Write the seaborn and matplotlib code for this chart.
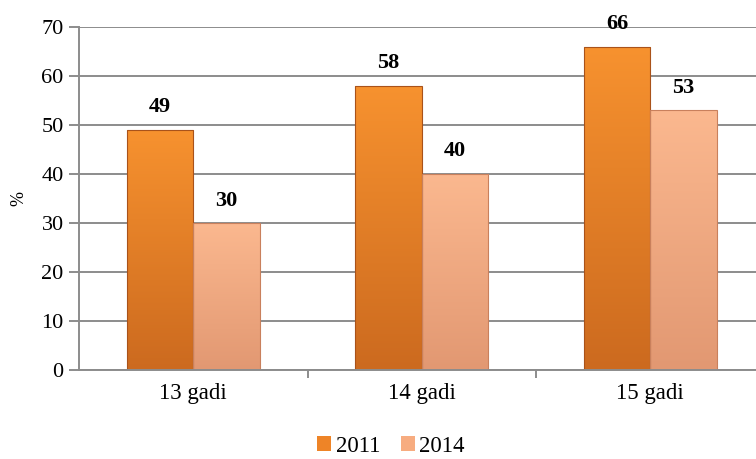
import matplotlib
matplotlib.use("Agg")
import matplotlib.pyplot as plt
import matplotlib.colors as mcolors
import seaborn as sns
import pandas as pd
import numpy as np

categories = ["13 gadi", "14 gadi", "15 gadi"]
years = ["2011", "2014"]
values_2011 = [49, 58, 66]
values_2014 = [30, 40, 53]

df = pd.DataFrame({
    "cat": categories * 2,
    "year": [years[0]] * 3 + [years[1]] * 3,
    "val": values_2011 + values_2014,
})

sns.set_theme(style="white")
plt.rcParams['font.family'] = ['Liberation Serif', 'DejaVu Serif']
plt.rcParams['text.color'] = 'black'
plt.rcParams['xtick.color'] = 'black'
plt.rcParams['ytick.color'] = 'black'
plt.rcParams['axes.labelcolor'] = 'black'

fig = plt.figure(figsize=(7.56, 4.59), dpi=100)
ax = fig.add_axes([79/756, (459-370)/459, (764.5-79)/756, (370-27)/459])

palette = {"2011": "#EE8427", "2014": "#F7AC80"}
grad = {"2011": ("#F7922F", "#CC6A1F"), "2014": ("#FBB88F", "#E29872")}
edge = {"2011": "#A9521A", "2014": "#C9805C"}

sns.barplot(data=df, x="cat", y="val", hue="year", palette=palette, ax=ax,
            width=0.58, gap=0, saturation=1, edgecolor="none", linewidth=0,
            legend=True)

# gradient fill on the bars
for cont, yr in zip(ax.containers, years):
    top, bot = grad[yr]
    cmap = mcolors.LinearSegmentedColormap.from_list("g" + yr, [bot, top])
    for p in cont.patches:
        x0, y0 = p.get_x(), p.get_y()
        w, h = p.get_width(), p.get_height()
        g = np.linspace(0, 1, 256).reshape(-1, 1)
        im = ax.imshow(g, extent=[x0, x0 + w, y0, y0 + h], origin="lower",
                       aspect="auto", cmap=cmap, zorder=p.get_zorder() + 0.1)
        im.set_clip_path(p)
        p.set_edgecolor(edge[yr])
        p.set_linewidth(0.8)
        p.set_facecolor("none")
        p.set_zorder(p.get_zorder() + 0.2)
ax.set_xlim(-0.5, 2.5)
ax.set_ylim(0, 70)
ax.set_yticks(range(0, 71, 10))

ax.yaxis.grid(True, color="#8C8C8C", linewidth=1.4)
ax.set_axisbelow(True)
for s in ["top", "right"]:
    ax.spines[s].set_visible(False)
ax.spines["left"].set_color("#8C8C8C")
ax.spines["left"].set_linewidth(1.4)
ax.spines["bottom"].set_color("#8C8C8C")
ax.spines["bottom"].set_linewidth(1.4)

ax.tick_params(axis="y", labelsize=16, length=7, width=1.4, color="#8C8C8C", left=True, pad=4)
ax.tick_params(axis="x", labelsize=16.5, length=0, pad=9)
ax.set_xticks([0.5, 1.5], minor=True)
ax.tick_params(axis="x", which="minor", length=6, width=1.4, color="#8C8C8C", bottom=True)
ax.set_xlabel("")
ax.set_ylabel("%", fontsize=13, labelpad=10)

for cont in ax.containers:
    ax.bar_label(cont, fmt="%d", padding=9, fontsize=16, fontweight="bold")

handles, labels = ax.get_legend_handles_labels()
ax.get_legend().remove()
leg = fig.legend(handles, labels, loc="center", bbox_to_anchor=(391/756, 1 - 446/459),
                 ncol=2, frameon=False, fontsize=16.5, handlelength=0.6, handleheight=0.6,
                 handletextpad=0.2, columnspacing=0.9, borderaxespad=0, borderpad=0)
for h, yr in zip(leg.legend_handles, years):
    h.set_facecolor(palette[yr])
    h.set_edgecolor(edge[yr])

fig.savefig("out.png", dpi=100)
